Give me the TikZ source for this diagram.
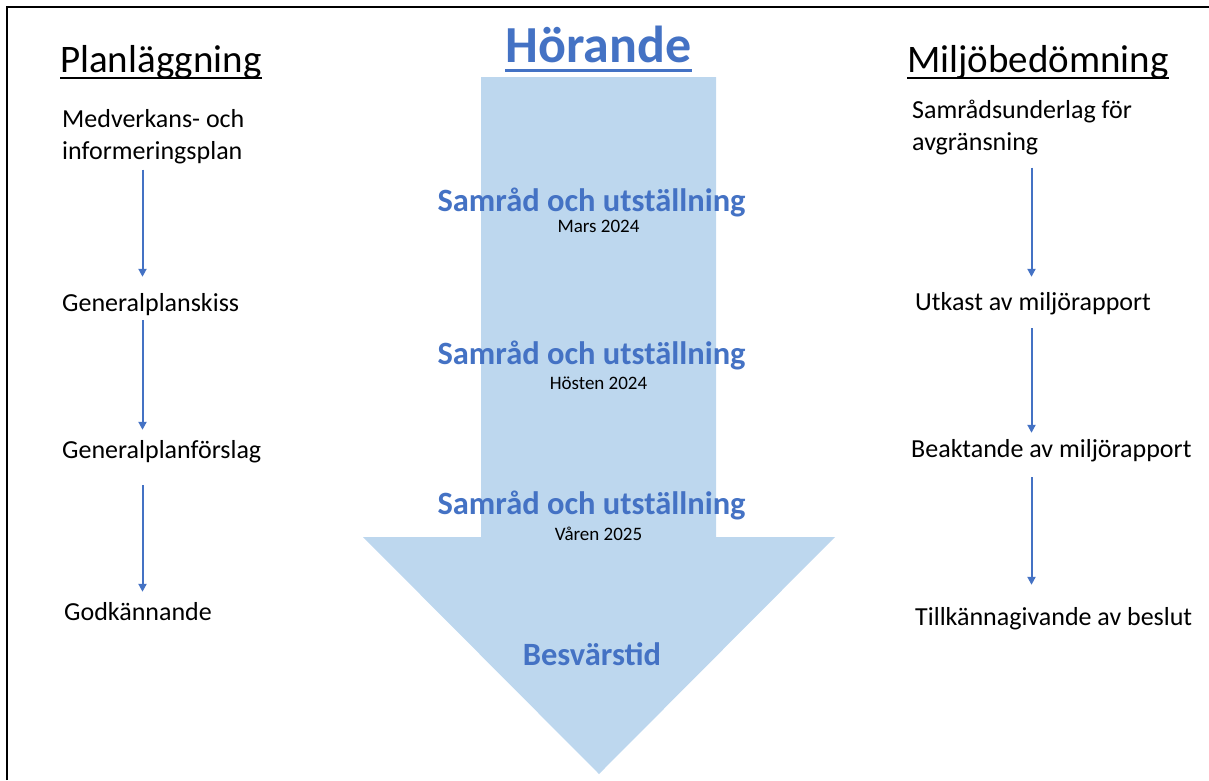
\documentclass[tikz,border=0pt]{standalone}
\usepackage{fontspec}
\setmainfont{Carlito}
\usetikzlibrary{arrows.meta}
\definecolor{txtblue}{RGB}{68,114,196}
\definecolor{arrowfill}{RGB}{189,215,238}
\tikzset{
  body/.style={inner sep=0pt, anchor=base west, align=left, font=\fontsize{26}{31.5}\selectfont, text height=18pt, text depth=6pt},
  body2/.style={inner sep=0pt, anchor=base west, align=left, font=\fontsize{26}{31.5}\selectfont},
  head/.style={inner sep=0pt, anchor=base west, font=\fontsize{39}{44}\selectfont},
  hoer/.style={inner sep=0pt, anchor=base, text=txtblue, font=\fontsize{52}{58}\selectfont\bfseries},
  samr/.style={inner sep=0pt, anchor=base, text=txtblue, font=\fontsize{32.5}{36}\selectfont\bfseries},
  date/.style={inner sep=0pt, anchor=base, font=\fontsize{19}{22}\selectfont},
  conn/.style={draw=txtblue, line width=2pt, -{Triangle[width=8pt,length=8pt]}},
  uline/.style={line width=2pt},
}
\begin{document}
\begin{tikzpicture}[x=1pt,y=-1pt]
\useasboundingbox (0,0) rectangle (1209,780);
% frame
\draw[line width=2pt] (7,780) -- (7,7) -- (1209,7);
% big arrow
\fill[arrowfill] (481,77) -- (716,77) -- (716,537) -- (835,537) -- (599,774) -- (363,537) -- (481,537) -- cycle;
% headers
\node[head] (hp) at (60,72) {Planläggning};
\draw[uline] ([yshift=-6pt]hp.base west) -- ([yshift=-6pt]hp.base east);
\node[head] (hm) at (907,72) {Miljöbedömning};
\draw[uline] ([yshift=-6pt]hm.base west) -- ([yshift=-6pt]hm.base east);
\node[hoer] (hh) at (598.5,62) {Hörande};
\draw[uline, line width=3pt, draw=txtblue] ([yshift=-8pt]hh.base west) -- ([yshift=-8pt]hh.base east);
% left column
\node[body2] (l1) at (62,159) {Medverkans- och\\informeringsplan};
\node[body] (l2) at (62,311) {Generalplanskiss};
\node[body] (l3) at (62,458) {Generalplanförslag};
\node[body] (l4) at (64,620) {Godkännande};
\coordinate (lx) at (142.5,0);
\draw[conn, shorten <=6pt, shorten >=16pt] (lx |- l1.south) -- (lx |- l2.north);
\draw[conn, shorten <=3pt, shorten >=10pt] (lx |- l2.south) -- (lx |- l3.north);
\draw[conn, shorten <=21pt, shorten >=10pt] (lx |- l3.south) -- (lx |- l4.north);
% right column
\node[body2] (r1) at (912,150) {Samrådsunderlag för\\avgränsning};
\node[body] (r2) at (915,310) {Utkast av miljörapport};
\node[body] (r3) at (911,457) {Beaktande av miljörapport};
\node[body] (r4) at (915,625) {Tillkännagivande av beslut};
\coordinate (rx) at (1031.5,0);
\draw[conn, shorten <=13pt, shorten >=15pt] (rx |- r1.south) -- (rx |- r2.north);
\draw[conn, shorten <=12pt, shorten >=6pt] (rx |- r2.south) -- (rx |- r3.north);
\draw[conn, shorten <=14pt, shorten >=22pt] (rx |- r3.south) -- (rx |- r4.north);
% center texts
\node[samr] (c1) at (591.5,211) {Samråd och utställning};
\node[date] (d1) at (598.5,232) {Mars 2024};
\node[samr] (c2) at (591.5,364) {Samråd och utställning};
\node[date] (d2) at (598.5,389) {Hösten 2024};
\node[samr] (c3) at (591.5,514) {Samråd och utställning};
\node[date] (d3) at (598.5,540) {Våren 2025};
\node[samr] (c4) at (592,665) {Besvärstid};
\end{tikzpicture}
\end{document}
